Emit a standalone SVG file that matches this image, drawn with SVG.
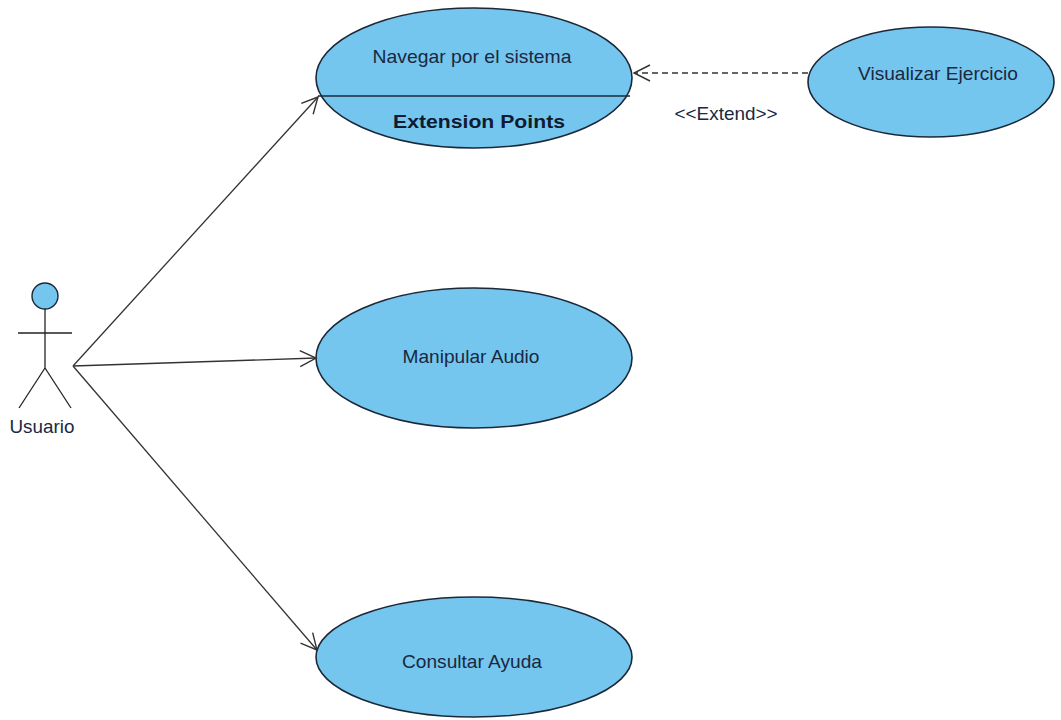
<svg xmlns="http://www.w3.org/2000/svg" width="1061" height="720" viewBox="0 0 1061 720">
  <style>
    .uc { fill: #74c6ef; stroke: #1c2838; stroke-width: 1.6; }
    .lbl { font-family: "Liberation Sans", Arial, sans-serif; font-size: 19px; fill: #1a2840; text-anchor: middle; }
    .bold { font-weight: bold; fill: #101a30; }
    .assoc { fill: none; stroke: #333; stroke-width: 1.3; }
    .ext { fill: none; stroke: #333; stroke-width: 1.4; stroke-dasharray: 6 4; }
    .actor { fill: none; stroke: #222; stroke-width: 1.3; }
  </style>
  <defs>
    <marker id="open" markerUnits="userSpaceOnUse" markerWidth="20" markerHeight="20" viewBox="-17 -10 20 20" refX="0" refY="0" orient="auto">
      <path d="M -16 -8 L 0 0 L -16 8" fill="none" stroke="#333" stroke-width="1.4"/>
    </marker>
  </defs>
  <rect width="1061" height="720" fill="#ffffff"/>

  <!-- actor -->
  <g id="usuario">
    <ellipse cx="45" cy="296" rx="13" ry="13" fill="#74c6ef" stroke="#1c2838" stroke-width="1.4"/>
    <line class="actor" x1="45" y1="309" x2="45" y2="368"/>
    <line class="actor" x1="18" y1="333" x2="72" y2="333"/>
    <line class="actor" x1="45" y1="368" x2="19" y2="408"/>
    <line class="actor" x1="45" y1="368" x2="71" y2="408"/>
    <text class="lbl" x="42" y="433" textLength="65" lengthAdjust="spacingAndGlyphs">Usuario</text>
  </g>

  <!-- use cases -->
  <g id="navegar">
    <ellipse class="uc" cx="474" cy="78" rx="158" ry="70"/>
    <line x1="318" y1="96" x2="630" y2="96" stroke="#1c2838" stroke-width="1.6"/>
    <text class="lbl" x="472" y="63" textLength="199" lengthAdjust="spacingAndGlyphs">Navegar por el sistema</text>
    <text class="lbl bold" x="479" y="128" font-size="20" textLength="172" lengthAdjust="spacingAndGlyphs">Extension Points</text>
  </g>
  <g id="visualizar">
    <ellipse class="uc" cx="931" cy="82" rx="123" ry="55"/>
    <text class="lbl" x="938" y="80" textLength="160" lengthAdjust="spacingAndGlyphs">Visualizar Ejercicio</text>
  </g>
  <g id="manipular">
    <ellipse class="uc" cx="474" cy="358" rx="158" ry="70"/>
    <text class="lbl" x="471" y="363" textLength="137" lengthAdjust="spacingAndGlyphs">Manipular Audio</text>
  </g>
  <g id="consultar">
    <ellipse class="uc" cx="474" cy="657" rx="158" ry="60"/>
    <text class="lbl" x="472" y="668" textLength="140" lengthAdjust="spacingAndGlyphs">Consultar Ayuda</text>
  </g>

  <!-- connectors -->
  <g id="connectors">
    <line class="assoc" x1="73" y1="366" x2="318" y2="97" marker-end="url(#open)"/>
    <line class="assoc" x1="73" y1="366" x2="316" y2="358" marker-end="url(#open)"/>
    <line class="assoc" x1="73" y1="366" x2="317" y2="650" marker-end="url(#open)"/>
    <line class="ext" x1="808" y1="73" x2="634" y2="73" marker-end="url(#open)"/>
    <text class="lbl" x="726" y="120" font-size="17" textLength="103" lengthAdjust="spacingAndGlyphs">&lt;&lt;Extend&gt;&gt;</text>
  </g>
</svg>
